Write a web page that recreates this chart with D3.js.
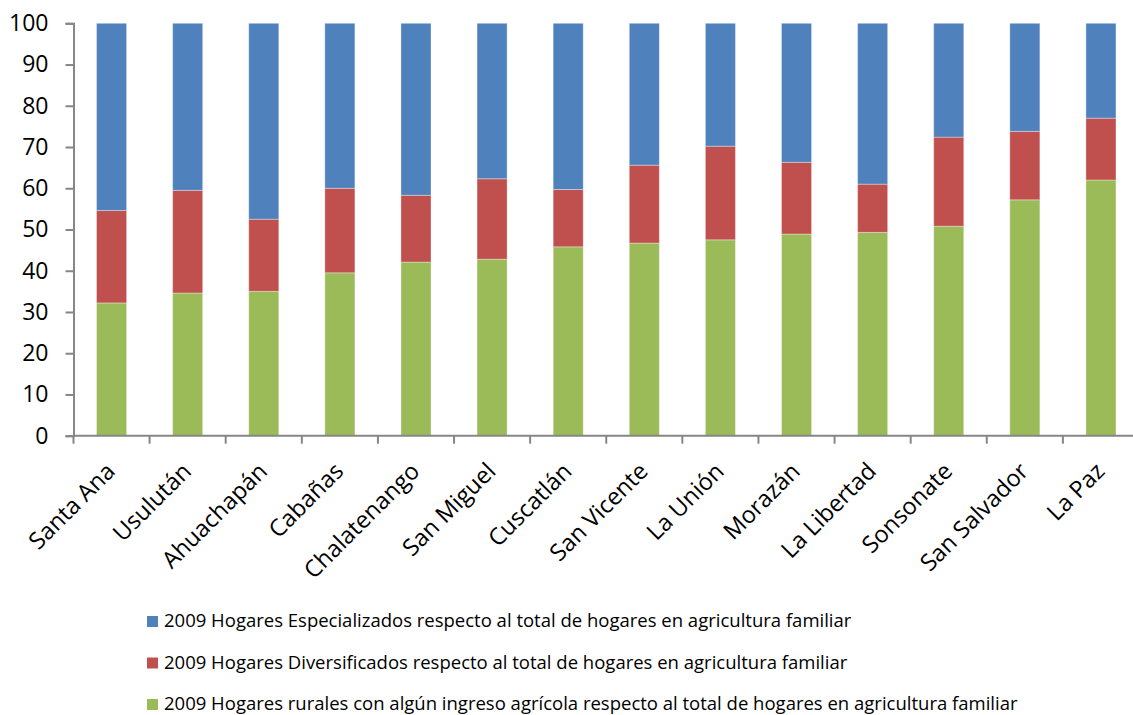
<!DOCTYPE html>
<html><head><meta charset="utf-8">
<script src="https://cdn.jsdelivr.net/npm/d3@7"></script>
<style>body{margin:0;background:#fff}svg{display:block}text{font-family:"Open Sans",sans-serif;fill:#000}</style>
</head><body>
<svg id="c" width="1133" height="715"></svg>
<script>
const categories = ["Santa Ana","Usulután","Ahuachapán","Cabañas","Chalatenango","San Miguel","Cuscatlán","San Vicente","La Unión","Morazán","La Libertad","Sonsonate","San Salvador","La Paz"];
// cumulative tops: green (rural) value, green+red total
const rural = [32.2,34.6,35.0,39.5,42.1,42.8,45.8,46.7,47.5,48.9,49.3,50.8,57.2,62.0];
const diversTop = [54.6,59.5,52.5,60.0,58.3,62.3,59.7,65.6,70.2,66.3,61.0,72.4,73.8,77.0];
const diversificados = diversTop.map((t,i)=>+(t-rural[i]).toFixed(1));
const especializados = diversTop.map(t=>+(100-t).toFixed(1));
const yTicks = [0,10,20,30,40,50,60,70,80,90,100];
const seriesNames = ["2009 Hogares Especializados respecto al total de hogares en agricultura familiar",
 "2009 Hogares Diversificados respecto al total de hogares en agricultura familiar",
 "2009 Hogares rurales con algún ingreso agrícola respecto al total de hogares en agricultura familiar"];
const colors = ["#4F81BD","#C0504D","#9BBB59"];

const svg = d3.select("#c");
const x = d3.scaleBand().domain(categories).range([73.5,1139]).paddingInner(0.605).paddingOuter(0.3025);
const y = d3.scaleLinear().domain([0,100]).range([435.7,23.3]);

const rows = categories.map((c,i)=>({cat:c, rural:rural[i], div:diversificados[i], esp:especializados[i]}));
const stack = d3.stack().keys(["rural","div","esp"])(rows);
const colorByKey = {rural:colors[2], div:colors[1], esp:colors[0]};

svg.append("g").selectAll("g").data(stack).join("g")
  .attr("fill", d=>colorByKey[d.key])
  .selectAll("rect").data(d=>d).join("rect")
  .attr("x", d=>x(d.data.cat))
  .attr("width", x.bandwidth())
  .attr("y", d=>y(d[1]))
  .attr("height", d=>y(d[0])-y(d[1]))
  .attr("stroke","rgba(255,255,255,0.35)").attr("stroke-width",1);

// y axis
const yAxis = svg.append("g").attr("transform","translate(73.5,0)")
  .call(d3.axisLeft(y).tickValues(yTicks).tickSize(8).tickPadding(17));
yAxis.select(".domain").attr("stroke","#868686").attr("stroke-width",2);
yAxis.selectAll(".tick line").attr("stroke","#868686").attr("stroke-width",2);
yAxis.selectAll(".tick text").attr("font-size","23px").attr("font-family","Open Sans, sans-serif").attr("fill","#000");

// x axis
const xb = d3.scaleLinear().domain([0,14]).range([73.5,1139]);
const xAxisG = svg.append("g").attr("transform","translate(0,435.7)");
xAxisG.append("line").attr("x1",73.5).attr("x2",1139).attr("stroke","#868686").attr("stroke-width",2);
xAxisG.selectAll("line.t").data(d3.range(0,15)).join("line").attr("class","t")
  .attr("x1",d=>xb(d)).attr("x2",d=>xb(d)).attr("y1",0).attr("y2",8)
  .attr("stroke","#868686").attr("stroke-width",2);
xAxisG.selectAll("text").data(categories).join("text")
  .attr("text-anchor","end")
  .attr("font-size","23.5px")
  .attr("transform", d=>`translate(${x(d)+x.bandwidth()/2+5},${37}) rotate(-45)`)
  .text(d=>d);

// legend
const lg = svg.append("g");
seriesNames.forEach((n,i)=>{
  const yy = 627 + i*41.5;
  lg.append("rect").attr("x",147).attr("y",yy-11).attr("width",11).attr("height",11).attr("fill",colors[i]);
  lg.append("text").attr("x",164).attr("y",yy).attr("font-size","18.5px").text(n);
});
</script>
</body></html>
